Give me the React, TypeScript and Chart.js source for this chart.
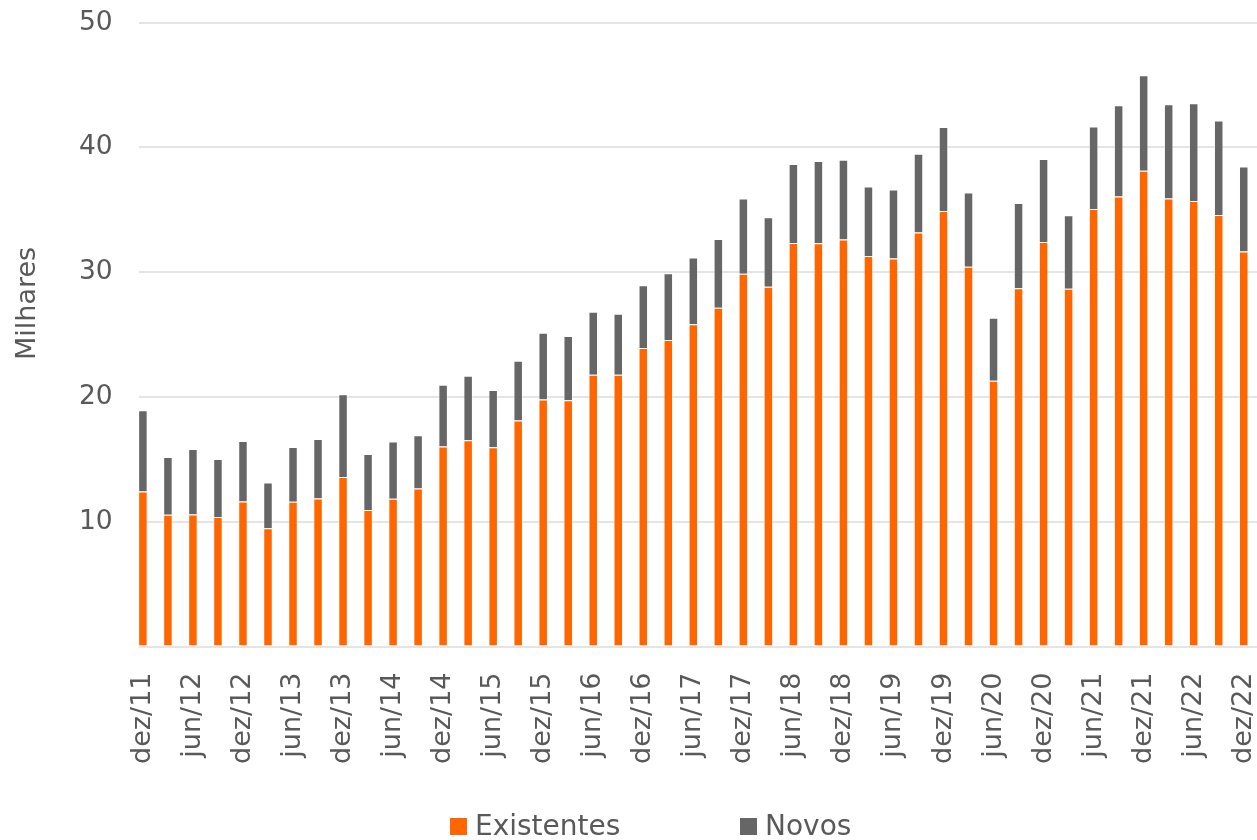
import React, { useEffect, useRef } from "react";
import { Chart, registerables } from "chart.js";

Chart.register(...registerables);

// Quarterly periods, Dec 2011 to Dec 2022
const periods = [
  "dez/11", "mar/12", "jun/12", "set/12", "dez/12", "mar/13", "jun/13", "set/13",
  "dez/13", "mar/14", "jun/14", "set/14", "dez/14", "mar/15", "jun/15", "set/15",
  "dez/15", "mar/16", "jun/16", "set/16", "dez/16", "mar/17", "jun/17", "set/17",
  "dez/17", "mar/18", "jun/18", "set/18", "dez/18", "mar/19", "jun/19", "set/19",
  "dez/19", "mar/20", "jun/20", "set/20", "dez/20", "mar/21", "jun/21", "set/21",
  "dez/21", "mar/22", "jun/22", "set/22", "dez/22",
];

// Thousands
const existentes = [
  12.43, 10.56, 10.59, 10.38, 11.63, 9.47, 11.6, 11.87,
  13.58, 10.94, 11.84, 12.67, 16.03, 16.54, 15.98, 18.11,
  19.79, 19.74, 21.79, 21.79, 23.92, 24.56, 25.82, 27.15,
  29.87, 28.83, 32.35, 32.32, 32.62, 31.31, 31.1, 33.18,
  34.91, 30.44, 21.31, 28.72, 32.43, 28.67, 35.07, 36.06,
  38.14, 35.9, 35.71, 34.59, 31.66,
];

const novos = [
  6.51, 4.62, 5.25, 4.64, 4.85, 3.68, 4.4, 4.77,
  6.64, 4.48, 4.59, 4.27, 4.96, 5.17, 4.58, 4.8,
  5.36, 5.14, 5.04, 4.88, 5.04, 5.36, 5.36, 5.52,
  6.03, 5.57, 6.32, 6.59, 6.4, 5.57, 5.54, 6.32,
  6.72, 5.94, 5.04, 6.83, 6.64, 5.89, 6.61, 7.33,
  7.65, 7.57, 7.84, 7.57, 6.82,
];

const seriesNames = ["Existentes", "Novos"];
const seriesColors = ["#FF6600", "#666666"];
const axisTitle = "Milhares";

const FONT = "'DejaVu Sans', Verdana, sans-serif";
const TEXT = "#595959";

// Vertical axis title, placed a little above the middle of the plot
const yTitlePlugin = {
  id: "yTitle",
  afterDraw(chart: any) {
    const { ctx, chartArea } = chart;
    ctx.save();
    ctx.translate(35, chartArea.top + (chartArea.bottom - chartArea.top) * 0.45);
    ctx.rotate(-Math.PI / 2);
    ctx.font = `27px ${FONT}`;
    ctx.fillStyle = TEXT;
    ctx.textAlign = "center";
    ctx.textBaseline = "alphabetic";
    ctx.fillText(axisTitle, 0, 0);
    ctx.restore();
  },
};

export default function App() {
  const canvasRef = useRef<HTMLCanvasElement | null>(null);

  useEffect(() => {
    if (!canvasRef.current) return;
    const series = [existentes, novos];
    const chart = new Chart(canvasRef.current, {
      type: "bar",
      data: {
        datasets: series.map((values, s) => ({
          label: seriesNames[s],
          data: values.map((v, i) => ({ x: i, y: v })),
          backgroundColor: seriesColors[s],
          borderColor: "rgba(255,255,255,0.45)",
          borderWidth: 1,
          barPercentage: 0.38,
          categoryPercentage: 1,
        })),
      },
      options: {
        responsive: false,
        animation: false,
        layout: { padding: { top: 22.7, right: 43, left: 0, bottom: 0 } },
        plugins: {
          legend: { display: false },
          tooltip: { enabled: false },
        },
        scales: {
          x: {
            type: "linear",
            stacked: true,
            min: -0.168,
            max: 44.53,
            offset: false,
            grid: { display: false, offset: false },
            border: { display: false },
            afterFit: (scale: any) => {
              scale.height = 840 - 646.5;
            },
            afterBuildTicks: (scale: any) => {
              scale.ticks = periods
                .map((_, i) => i)
                .filter((i) => i % 2 === 0)
                .map((i) => ({ value: i }));
            },
            ticks: {
              autoSkip: false,
              minRotation: 90,
              maxRotation: 90,
              padding: 18,
              color: TEXT,
              font: { family: FONT, size: 27 },
              callback: (value: any) => periods[value as number] ?? "",
            },
          },
          y: {
            stacked: true,
            min: 0,
            max: 50,
            grid: { color: "#e4e4e4", lineWidth: 2, drawTicks: false },
            border: { display: false },
            afterFit: (scale: any) => {
              scale.width = 138.7;
              scale.paddingTop = 0;
              scale.paddingBottom = 0;
            },
            ticks: {
              stepSize: 10,
              padding: 26,
              color: TEXT,
              font: { family: FONT, size: 26.5 },
              callback: (value: any) => (value === 0 ? "" : String(value)),
            },
          },
        },
      },
      plugins: [yTitlePlugin],
    });
    return () => chart.destroy();
  }, []);

  const legendLeft = [450, 740];

  return (
    <div
      style={{
        position: "fixed",
        left: 0,
        top: 0,
        width: 1257,
        height: 840,
        overflow: "hidden",
        background: "#ffffff",
      }}
    >
      <canvas ref={canvasRef} width={1300} height={840} style={{ display: "block" }} />
      {seriesNames.map((name, i) => (
        <div
          key={name}
          style={{
            position: "absolute",
            left: legendLeft[i],
            top: 812,
            height: 28,
            display: "flex",
            alignItems: "flex-start",
            fontFamily: FONT,
            fontSize: 28,
            lineHeight: "28px",
            color: TEXT,
            whiteSpace: "nowrap",
          }}
        >
          <span
            style={{
              display: "inline-block",
              width: 16.7,
              height: 16.7,
              marginTop: 6.3,
              marginRight: 8.3,
              background: seriesColors[i],
            }}
          />
          <span>{name}</span>
        </div>
      ))}
    </div>
  );
}
